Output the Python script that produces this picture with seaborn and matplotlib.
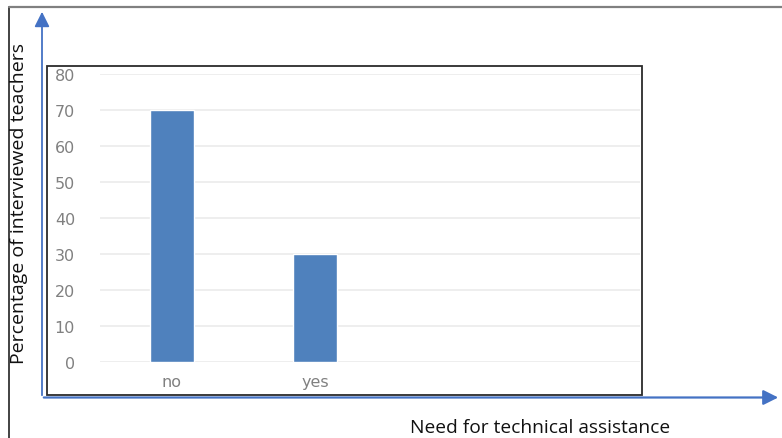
import matplotlib
matplotlib.use("Agg")
import matplotlib.pyplot as plt
import seaborn as sns
import pandas as pd
from matplotlib.patches import Rectangle, FancyArrowPatch
from matplotlib.lines import Line2D

# Survey answers: share of interviewed teachers needing technical assistance
categories = ["no", "yes"]
percentages = [70, 30]
y_ticks = [0, 10, 20, 30, 40, 50, 60, 70, 80]

x_title = "Need for technical assistance"
y_title = "Percentage of interviewed teachers"

df = pd.DataFrame({"answer": categories, "pct": percentages})

sns.set_theme(style="white")
plt.rcParams["font.family"] = ["DejaVu Sans"]

W, H = 782, 439
fig = plt.figure(figsize=(W / 100, H / 100), dpi=100)
fig.patch.set_facecolor("white")

# Background layer in pixel coordinates for the frame, box and axis arrows
bg = fig.add_axes([0, 0, 1, 1])
bg.set_xlim(0, W)
bg.set_ylim(H, 0)
bg.axis("off")

bg.add_line(Line2D([9, 9], [8, H], color="#222222", lw=1.2))
bg.add_line(Line2D([9, W], [8, 8], color="#808080", lw=1.6))
bg.add_patch(Rectangle((47, 67), 595, 329, fill=False, edgecolor="#2b2b2b", lw=1.3))

arrow_color = "#4472C4"
bg.add_patch(FancyArrowPatch((42, 399), (42, 10), arrowstyle="-|>,head_length=6,head_width=3",
                             color=arrow_color, lw=1.3, mutation_scale=1.5))
bg.add_patch(FancyArrowPatch((41, 398.5), (781, 398.5), arrowstyle="-|>,head_length=6,head_width=3",
                             color=arrow_color, lw=1.6, mutation_scale=1.5))

bg.text(19, 204, y_title, rotation=90, ha="center", va="center",
        fontsize=14, color="#111111", family=["Open Sans", "DejaVu Sans"])
bg.text(540, 428, x_title, ha="center", va="center",
        fontsize=13.8, color="#111111", family=["Open Sans", "DejaVu Sans"])

# Bar chart area
ax = fig.add_axes([100 / W, (H - 363) / H, 540 / W, 288 / H])
ax.patch.set_alpha(0)
sns.barplot(data=df, x="answer", y="pct", order=categories, color="#4F81BD",
            width=0.31, saturation=1, ax=ax, zorder=3)
ax.set_xlim(-0.503, 3.27)
ax.set_ylim(0, 80)
ax.set_yticks(y_ticks)
ax.set_yticklabels([str(v) for v in y_ticks])
ax.yaxis.grid(True, color="#ebebeb", lw=1.2, zorder=0)
ax.set_axisbelow(True)
for s in ax.spines.values():
    s.set_visible(False)
ax.tick_params(axis="y", length=0, pad=18, labelsize=11.5, labelcolor="#808080")
ax.tick_params(axis="x", length=0, pad=9, labelsize=11.5, labelcolor="#808080")
ax.set_xlabel("")
ax.set_ylabel("")

fig.savefig("out.png", dpi=100)
